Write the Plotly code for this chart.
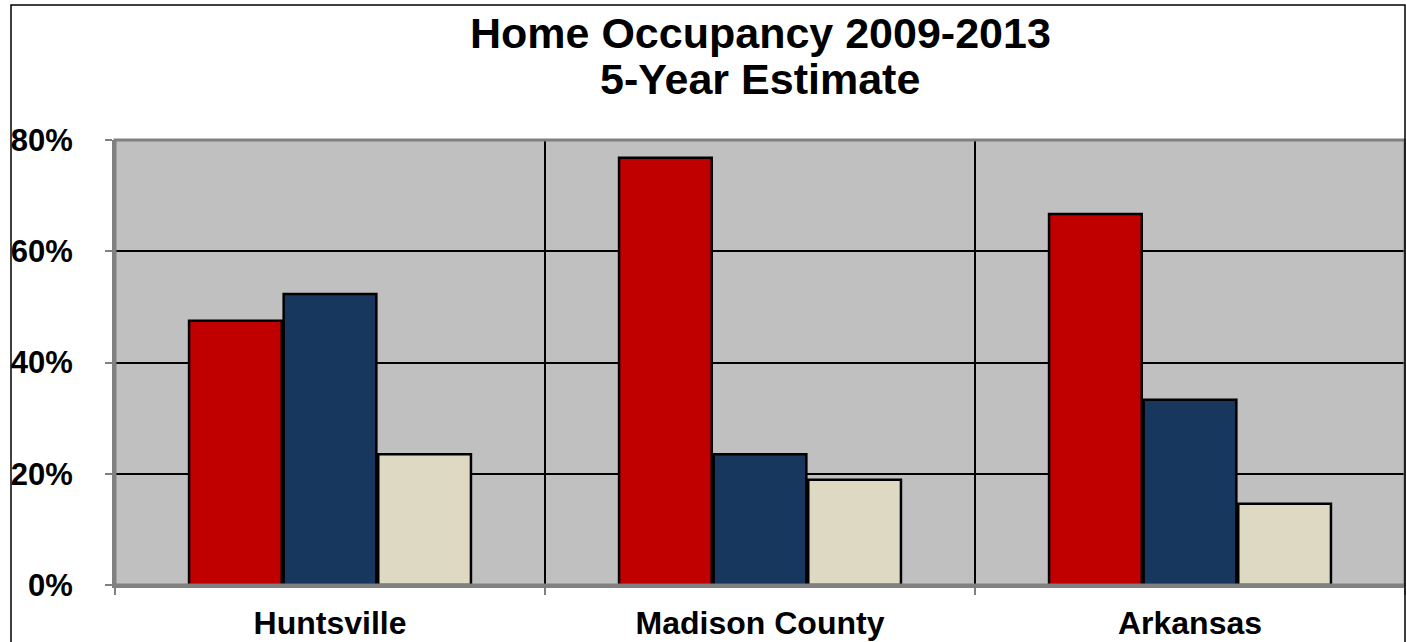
import plotly.graph_objects as go

categories = ["Huntsville", "Madison County", "Arkansas"]
series_names = ["Series A", "Series B", "Series C"]
series_a = [47.5, 76.8, 66.7]
series_b = [52.3, 23.5, 33.3]
series_c = [23.5, 18.9, 14.6]
tick_vals = [0, 20, 40, 60, 80]
tick_text = ["0%", "20%", "40%", "60%", "80%"]
title_lines = ["Home Occupancy 2009-2013", "5-Year Estimate"]

colors = ["#C00000", "#17375E", "#DDD9C3"]
font_family = "Liberation Sans, Arial, sans-serif"

fig = go.Figure()
for name, vals, col in zip(series_names, [series_a, series_b, series_c], colors):
    fig.add_trace(go.Bar(
        x=categories, y=vals, name=name,
        marker=dict(color=col, line=dict(color="black", width=2.5)),
        showlegend=False,
    ))

W, H = 1406, 642
ml, mr, mt, mb = 115, 1, 140, 57
pw = W - ml - mr
ph = H - mt - mb

fig.update_layout(
    width=W, height=H,
    margin=dict(l=ml, r=mr, t=mt, b=mb, autoexpand=False),
    paper_bgcolor="white",
    plot_bgcolor="#C0C0C0",
    barmode="group",
    bargap=0.34,
    bargroupgap=0.02,
    font=dict(family=font_family, color="black"),
)

# title as two annotations (tight line spacing like the reference)
for i, (line, ypx) in enumerate(zip(title_lines, [33, 79])):
    fig.add_annotation(
        text=f"<b>{line}</b>", xref="paper", yref="paper",
        x=0.5, xanchor="center",
        y=1 + (mt - ypx) / ph, yanchor="middle",
        showarrow=False,
        font=dict(size=43, family=font_family, color="black"),
    )

fig.update_yaxes(
    range=[0, 80],
    tickvals=tick_vals, ticktext=[f"<b>{t}</b>" for t in tick_text],
    tickfont=dict(size=31, family=font_family, color="black"),
    showgrid=True, gridcolor="black", gridwidth=2,
    zeroline=False,
    showline=True, linecolor="#808080", linewidth=3,
    ticks="outside", ticklen=7, tickcolor="#808080", tickwidth=2,
    ticklabelstandoff=26,
    mirror=False,
)
fig.update_xaxes(
    tickson="boundaries",
    ticks="outside", ticklen=7, tickcolor="#808080", tickwidth=2,
    showline=True, linecolor="#808080", linewidth=3,
    tickfont=dict(size=32, family=font_family, color="black"),
    ticktext=[f"<b>{c}</b>" for c in categories], tickvals=categories,
    showgrid=False,
    ticklabelstandoff=8,
)

# vertical separators at category boundaries
for xb in [0.5, 1.5]:
    fig.add_shape(type="line", xref="x", yref="paper", x0=xb, x1=xb, y0=0, y1=1,
                  line=dict(color="black", width=2), layer="below")

# plot-area frame (gray)
fig.add_shape(type="rect", xref="paper", yref="paper", x0=0, x1=1, y0=0, y1=1,
              line=dict(color="#808080", width=3), layer="above")

# outer chart border
fig.add_shape(type="rect", xref="paper", yref="paper",
              x0=(11 - ml) / pw, x1=(W - 1 - ml) / pw,
              y0=-(H + 10 - mt - ph) / ph, y1=(H - 5 - mb) / ph,
              line=dict(color="black", width=1.5), layer="above")

fig.write_html("out.html", config={"displayModeBar": False},
               post_script="document.body.style.margin='0px';")
